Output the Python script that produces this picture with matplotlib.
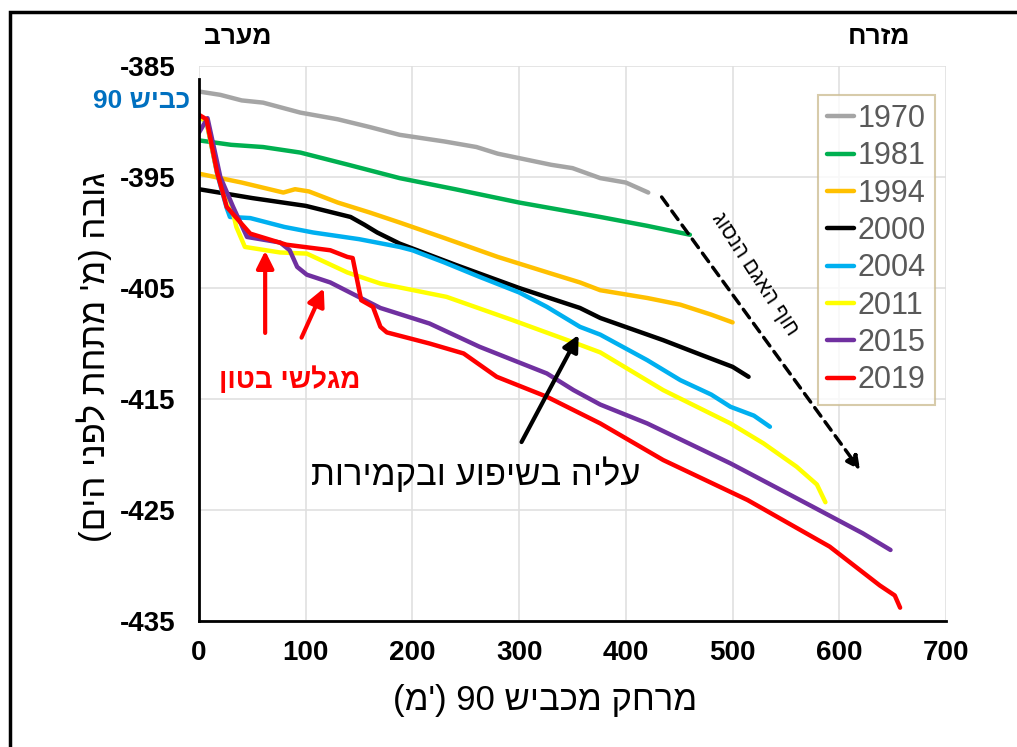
import matplotlib
matplotlib.use("Agg")
import matplotlib.pyplot as plt
from matplotlib.patches import Rectangle

plt.rcParams['font.family'] = ['Liberation Sans', 'DejaVu Sans']
plt.rcParams['axes.unicode_minus'] = False

# ---------------- data (distance from road 90 [m], elevation [m]) ----------------
years = ["1970", "1981", "1994", "2000", "2004", "2011", "2015", "2019"]
colors = ["#A5A5A5", "#00B050", "#FFC000", "#000000", "#00B0F0", "#FFFF00", "#7030A0", "#FF0000"]

x1970 = [0, 20, 40, 60, 95, 130, 160, 188, 230, 260, 280, 300, 330, 350, 376, 400, 421]
y1970 = [-387.3, -387.6, -388.1, -388.3, -389.2, -389.8, -390.5, -391.2, -391.8, -392.3,
         -392.9, -393.3, -393.9, -394.2, -395.1, -395.5, -396.4]

x1981 = [0, 30, 60, 95, 140, 188, 240, 300, 376, 420, 460]
y1981 = [-391.7, -392.1, -392.3, -392.8, -393.9, -395.1, -396.1, -397.3, -398.6, -399.4, -400.2]

x1994 = [0, 40, 79, 90, 103, 130, 160, 188, 230, 280, 330, 357, 376, 420, 451, 480, 500]
y1994 = [-394.7, -395.5, -396.4, -396.1, -396.3, -397.3, -398.2, -399.1, -400.5, -402.2,
         -403.7, -404.5, -405.2, -405.9, -406.5, -407.4, -408.1]

x2000 = [0, 50, 100, 142, 155, 167, 188, 240, 300, 357, 376, 435, 470, 500, 515]
y2000 = [-396.1, -396.9, -397.6, -398.6, -399.3, -400.0, -401.0, -402.9, -405.0, -406.8,
         -407.7, -409.7, -411.0, -412.1, -413.0]

x2004 = [0, 7, 17, 26, 29, 48, 80, 107, 150, 188, 200, 230, 263, 300, 326, 357, 376, 420,
         451, 480, 498, 520, 535]
y2004 = [-389.6, -390.0, -394.7, -397.8, -398.6, -398.7, -399.5, -400.0, -400.6, -401.3,
         -401.6, -402.7, -404.0, -405.4, -406.7, -408.5, -409.2, -411.5, -413.3, -414.6,
         -415.7, -416.5, -417.5]

x2011 = [0, 7, 17, 26, 29, 35, 43, 76, 101, 139, 170, 232, 294, 351, 376, 435, 498, 529,
         560, 579, 587]
y2011 = [-389.6, -390.0, -394.6, -396.8, -397.1, -399.5, -401.3, -401.8, -401.9, -403.6,
         -404.6, -405.8, -407.9, -409.9, -410.8, -414.2, -417.2, -419.0, -421.1, -422.7,
         -424.3]

x2015 = [0, 8, 20, 32, 45, 76, 85, 92, 101, 123, 170, 216, 263, 326, 351, 376, 420, 498,
         575, 622, 648]
y2015 = [-391.0, -389.7, -395.0, -397.7, -400.4, -400.9, -401.6, -403.1, -403.8, -404.5,
         -406.8, -408.2, -410.3, -412.7, -414.2, -415.5, -417.2, -420.8, -424.7, -427.1,
         -428.6]

x2019 = [0, 7, 17, 26, 48, 82, 123, 139, 144, 152, 163, 170, 176, 216, 248, 279, 326, 376,
         435, 514, 591, 638, 652, 657]
y2019 = [-389.4, -389.8, -394.6, -397.7, -400.1, -401.1, -401.6, -402.2, -402.3, -406.1,
         -406.7, -408.5, -409.0, -410.0, -410.9, -413.0, -414.8, -417.2, -420.5, -424.1,
         -428.3, -431.8, -432.7, -433.8]

series_x = [x1970, x1981, x1994, x2000, x2004, x2011, x2015, x2019]
series_y = [y1970, y1981, y1994, y2000, y2004, y2011, y2015, y2019]

xticks = [0, 100, 200, 300, 400, 500, 600, 700]
yticks = [-385, -395, -405, -415, -425, -435]

# ---------------- figure ----------------
W, H = 1017, 747
fig = plt.figure(figsize=(W / 100, H / 100), dpi=100)
ax = fig.add_axes([199 / W, 1 - 621 / H, 747 / W, 555 / H])

for xs, ys, c, lab in zip(series_x, series_y, colors, years):
    ax.plot(xs, ys, color=c, lw=3.2, label=lab, solid_capstyle='round', solid_joinstyle='round')

ax.set_xlim(0, 700)
ax.set_ylim(-435, -385)
ax.set_xticks(xticks)
ax.set_yticks(yticks)
ax.set_xticklabels([str(v) for v in xticks])
ax.set_yticklabels([str(v) for v in yticks])
ax.grid(True, color='#E0E0E0', lw=1.2)
ax.set_axisbelow(True)
for s in ['top', 'right']:
    ax.spines[s].set_visible(False)
ax.spines['left'].set_linewidth(2)
ax.spines['bottom'].set_linewidth(2)
ax.spines['left'].set_bounds(-435, -386.2)
ax.tick_params(length=0)
for t in ax.get_xticklabels():
    t.set_fontfamily(['Liberation Sans Narrow', 'Liberation Sans'])
    t.set_fontweight('bold')
    t.set_fontsize(20)
for t in ax.get_yticklabels():
    t.set_fontweight('bold')
    t.set_fontsize(20)
ax.tick_params(axis='x', pad=14)
ax.tick_params(axis='y', pad=17)

ax.set_xlabel("(מ') 90 שיבכמ קחרמ", fontsize=25)
ax.xaxis.set_label_coords((545 - 199) / 747, -(684 - 621) / 555)
ax.set_ylabel("(םיה ינפל תחתמ 'מ) הבוג", fontsize=25)
ax.yaxis.set_label_coords(-(199 - 112) / 747, 1 - (357 - 66) / 555)

leg = ax.legend(loc='upper right', bbox_to_anchor=(0.985, 0.948), fontsize=22,
                frameon=True, fancybox=False, edgecolor='#CDBE95', labelcolor='#595959',
                handlelength=0.9, handletextpad=0.1, labelspacing=0.24, borderpad=0.3,
                borderaxespad=0)
leg.get_frame().set_linewidth(1.5)

# arrows
ax.annotate("", xy=(621, -421.6), xytext=(432, -396.6),
            arrowprops=dict(arrowstyle='-|>', color='black', lw=2.5, linestyle=(0, (3, 2)),
                            mutation_scale=20))
ax.annotate("", xy=(62, -401.4), xytext=(62, -409.3),
            arrowprops=dict(arrowstyle='-|>', color='#FF0000', lw=3, mutation_scale=26))
ax.annotate("", xy=(118, -404.8), xytext=(95, -409.7),
            arrowprops=dict(arrowstyle='-|>', color='#FF0000', lw=3, mutation_scale=26))
ax.annotate("", xy=(357, -409.0), xytext=(301, -419.1),
            arrowprops=dict(arrowstyle='-|>', color='black', lw=3, mutation_scale=24))

# texts in axes
ax.text(85, -413.3, "ןוטב ישלגמ", color='#FF0000', fontsize=20, fontweight='bold',
        ha='center', va='center')
ax.text(259, -421.8, "תורימקבו עופישב הילע", color='black', fontsize=25,
        ha='center', va='center')
ax.text(521, -403.8, "גוסנה םגאה ףוח", color='black', fontsize=15,
        ha='center', va='center', rotation=-57, rotation_mode='anchor')

# texts in figure
fig.text(238 / W, 1 - 37 / H, "ברעמ", fontsize=19, fontweight='bold', ha='center', va='center')
fig.text(879 / W, 1 - 37 / H, "חרזמ", fontsize=19, fontweight='bold', ha='center', va='center')
fig.text(190 / W, 1 - 101 / H, "90 שיבכ", fontsize=19, fontweight='bold', color='#0070C0',
         ha='right', va='center')

# outer frame
fig.add_artist(Rectangle((10 / W, -0.1), 1.2, 1 - 12 / H + 0.1, transform=fig.transFigure,
                         fill=False, edgecolor='black', lw=2.5))

fig.savefig("out.png", dpi=100)
